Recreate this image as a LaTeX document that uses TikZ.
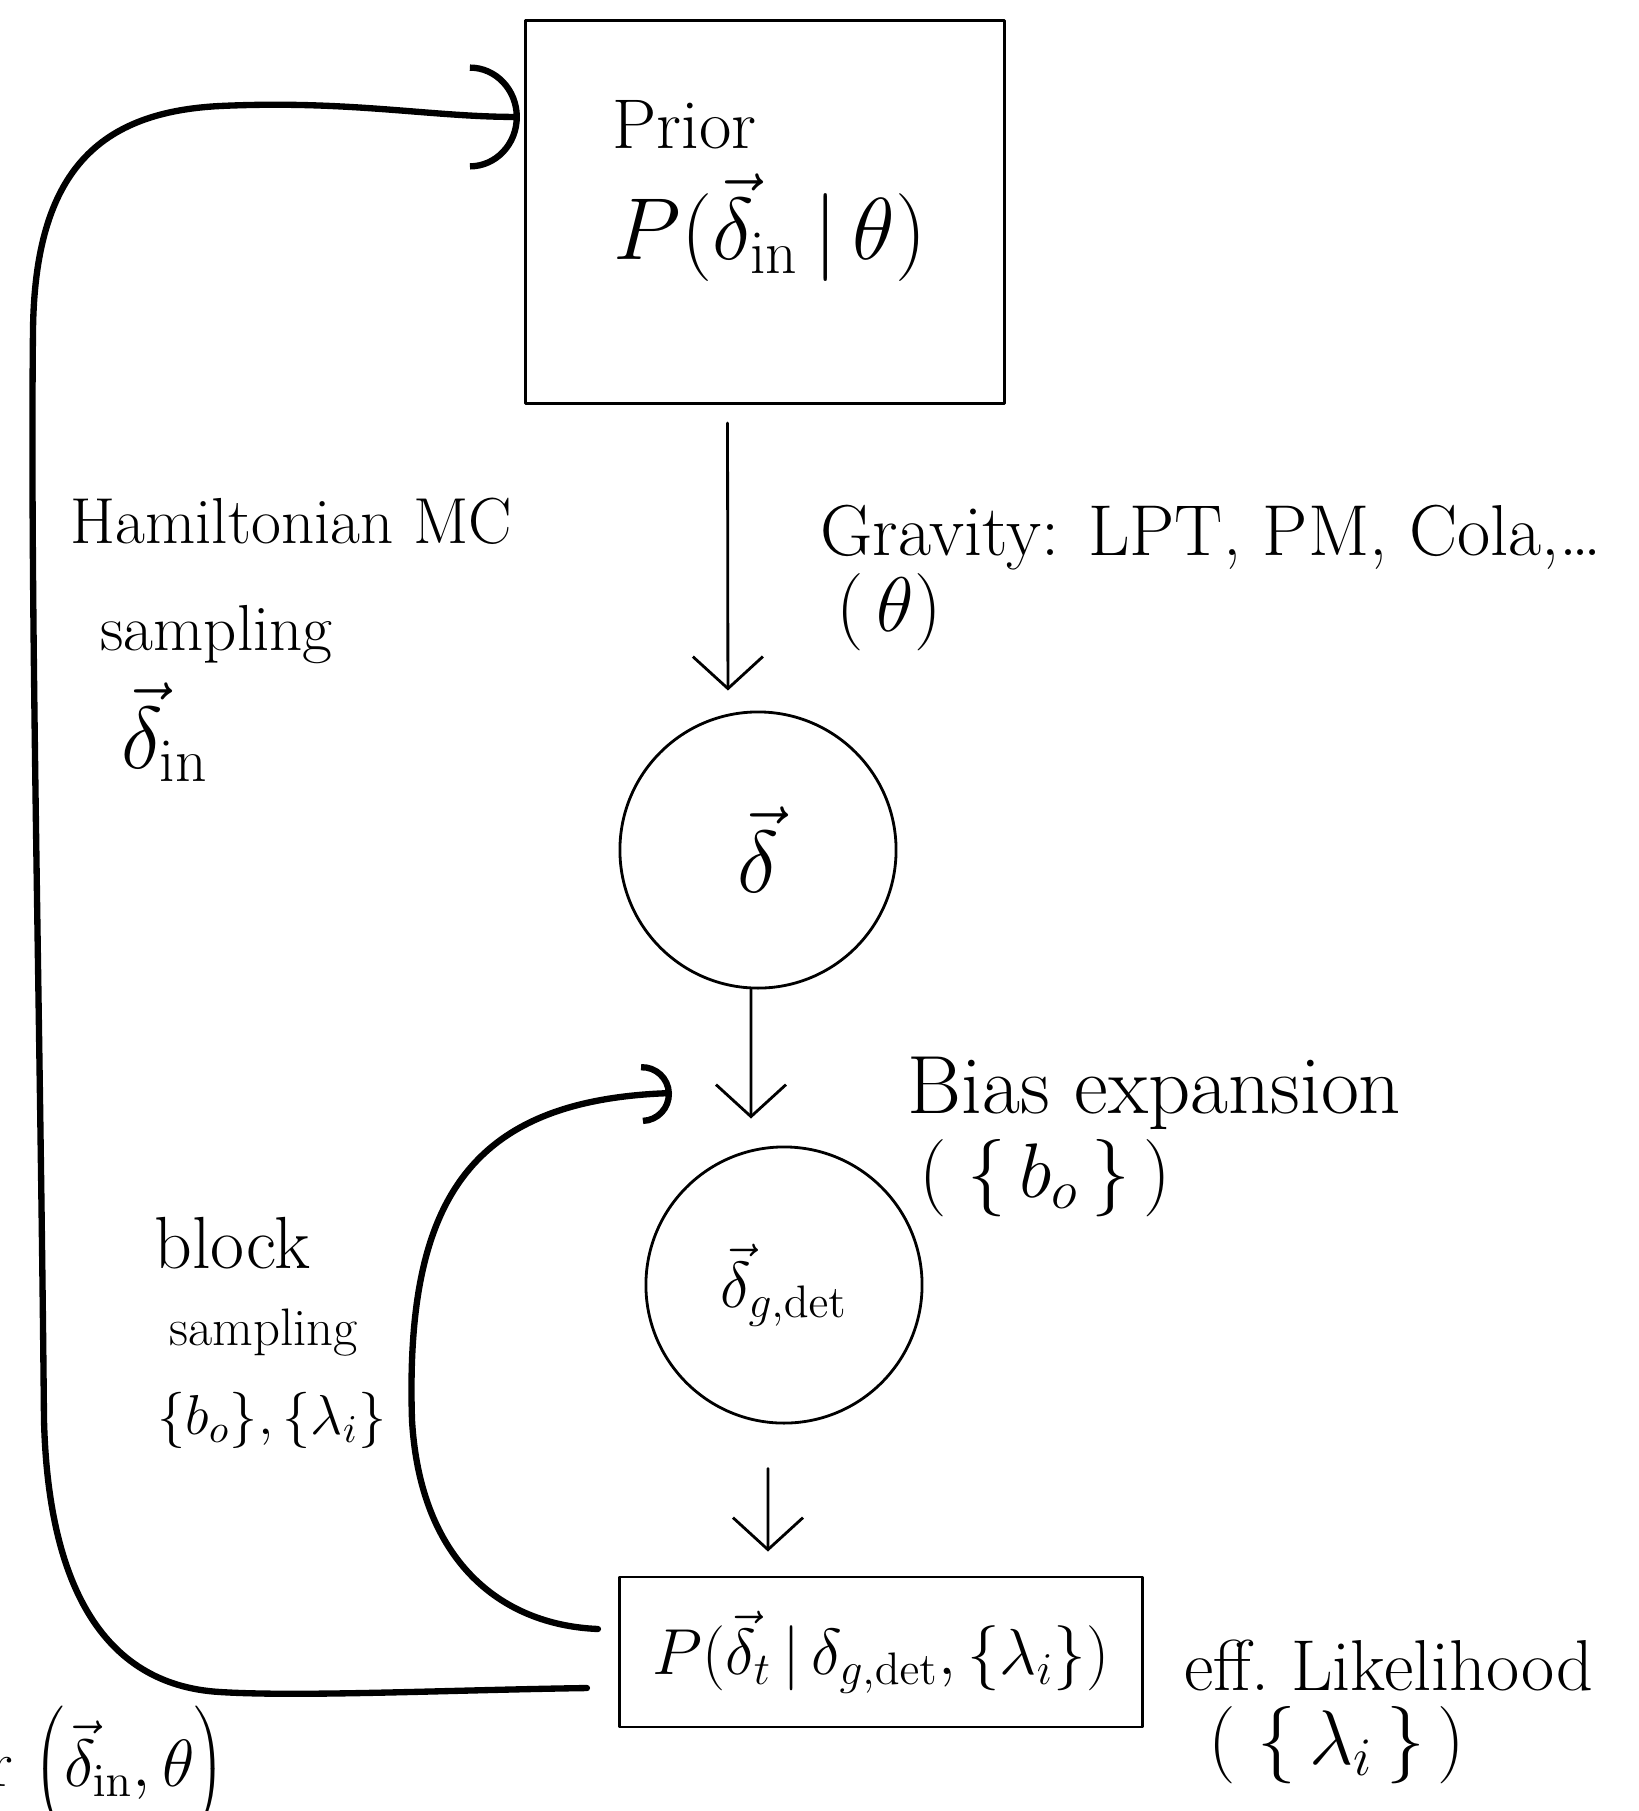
\RequirePackage{fix-cm}
\documentclass[tikz,border=0pt]{standalone}
\usetikzlibrary{arrows.meta,positioning}
\tikzset{
  hand/.style={font=\fontsize{18.5}{22}\selectfont},
  handbig/.style={font=\fontsize{25}{30}\selectfont},
  box/.style={draw,line width=0.8pt,inner sep=0pt},
  blob/.style={draw,circle,line width=0.8pt,minimum size=2.76cm,inner sep=0pt},
  flow/.style={line width=0.8pt,-{Straight Barb[length=3.2mm,width=7mm]}},
  loopline/.style={line width=1.8pt,line cap=round},
}
\begin{document}
\begin{tikzpicture}[x=0.01cm,y=-0.01cm,line join=round,line cap=round]
  \useasboundingbox (0,0) rectangle (1638,1811);
  \fill[white] (0,0) rectangle (1638,1811);

  % --- catena centrale: prior, densita', campo dei traccianti, likelihood
  \node[box,minimum width=4.79cm,minimum height=3.83cm] (prior) at (765,212) {};
  \node[font=\fontsize{20}{24}\selectfont,anchor=base west] (priorname) at (600,148) {Prior};
  \node[handbig] (priorpdf) at (770,228) {$P(\vec\delta_{\rm in}\,|\,\theta)$};
  \node[blob,handbig] (dens) at (758,850) {$\vec\delta$};
  \node[blob,hand] (gal) at (784,1285) {$\vec\delta_{g,\rm det}$};
  \node[box,hand,minimum width=5.23cm,minimum height=1.5cm] (like) at (881,1652)
    {$P(\vec\delta_t\,|\,\delta_{g,\rm det},\{\lambda_i\})$};

  % --- frecce verso il basso
  \draw[flow,shorten <=0.18cm,shorten >=0.2cm] ([xshift=-0.375cm]prior.south) -- ([xshift=-0.30cm]dens.north);
  \draw[flow,shorten >=0.27cm] ([xshift=-0.07cm]dens.south) -- ([xshift=-0.33cm]gal.north);
  \draw[flow,shorten <=0.44cm,shorten >=0.24cm] ([xshift=-0.16cm]gal.south) -- ([xshift=-1.13cm]like.north);

  % --- etichette a destra
  \node[font=\fontsize{20.5}{24}\selectfont,anchor=base west] (grav) at (808,555) {Gravity: LPT, PM, Cola,\dots};
  \node[font=\fontsize{22}{26}\selectfont] (gravpar) at (889,612) {(\,$\theta$)};
  \node[font=\fontsize{23.5}{28}\selectfont,anchor=base west] (bias) at (895,1113) {Bias expansion};
  \node[font=\fontsize{22}{26}\selectfont] (biaspar) at (1045,1178) {(\;$\{\,b_o\,\}$\,)};
  \node[font=\fontsize{20.5}{24}\selectfont,anchor=base west] (eff) at (1172,1690) {eff.\ Likelihood};
  \node[font=\fontsize{22}{26}\selectfont] (effpar) at (1337,1745) {(\;$\{\,\lambda_i\,\}$\,)};

  % --- anello esterno: Hamiltonian MC
  \draw[loopline,-{Arc Barb[length=5mm,width=10.5mm]}]
    ([xshift=-0.31cm,yshift=-0.36cm]like.west)
    .. controls (450,1690) and (300,1697) .. (220,1692)
    .. controls (100,1685) and (48,1580) .. (44,1420)
    .. controls (40,1000) and (30,600) .. (33,330)
    .. controls (35,170) and (100,112) .. (220,106)
    .. controls (350,100) and (430,117) .. ([xshift=-0.04cm,yshift=0.95cm]prior.west);
  \node[hand,anchor=base west] (hmc) at (58,543) {Hamiltonian MC};
  \node[hand,anchor=base west] (hmcsamp) at (88,650) {sampling};
  \node[handbig] (hmcvar) at (165,732) {$\vec\delta_{\rm in}$};

  % --- anello interno: block sampling
  \coordinate (gtip) at (672,1093);
  \draw[loopline,-{Arc Barb[length=3mm,width=6mm]}]
    ([xshift=-0.2cm,yshift=0.23cm]like.west)
    .. controls (500,1625) and (420,1560) .. (412,1420)
    .. controls (405,1200) and (470,1100) .. (gtip);
  \node[font=\fontsize{21}{25}\selectfont,anchor=base west] (blk) at (142,1268) {block};
  \node[font=\fontsize{15}{18}\selectfont,anchor=base west] (blksamp) at (157,1345) {sampling};
  \node[font=\fontsize{16}{19}\selectfont] (blkpar) at (272,1420) {$\{b_o\},\{\lambda_i\}$};

  % --- formula tagliata in basso a sinistra
  \node[font=\fontsize{19}{23}\selectfont,anchor=base east,inner sep=0pt] (post) at (226,1786)
    {r\ $\left(\vrule height 0.7cm depth 0.45cm width 0pt\vec\delta_{\rm in},\theta\right)$};
\end{tikzpicture}
\end{document}
